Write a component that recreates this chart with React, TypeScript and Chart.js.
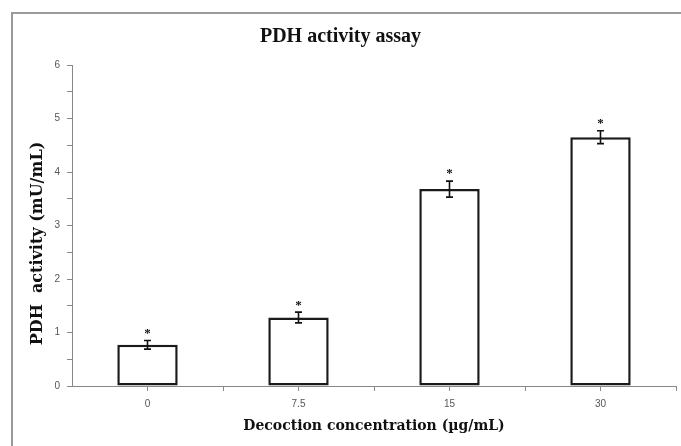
import React, { useEffect, useRef } from "react";
import { Chart, registerables } from "chart.js";

Chart.register(...registerables);

const categories = ["0", "7.5", "15", "30"];
const activity = [0.77, 1.28, 3.68, 4.65];
const errors = [0.08, 0.1, 0.15, 0.12];
const significance = ["*", "*", "*", "*"];
const yMin = 0;
const yMax = 6;
const yMajorStep = 1;
const yMinorStep = 0.5;
const chartTitle = "PDH activity assay";
const yTitle = "PDH  activity (mU/mL)";
const xTitle = "Decoction concentration (\u00b5g/mL)";

const SERIF = "'Liberation Serif', 'Times New Roman', serif";
const WIDE_SERIF = "'DejaVu Serif', 'Liberation Serif', serif";
const SANS = "'Liberation Sans', Arial, sans-serif";

const framePlugin = {
  id: "frame",
  beforeDraw(chart: any) {
    const ctx = chart.ctx;
    ctx.save();
    ctx.fillStyle = "#ffffff";
    ctx.fillRect(0, 0, chart.width, chart.height);
    ctx.strokeStyle = "#9a9a9a";
    ctx.lineWidth = 2;
    ctx.strokeRect(12, 13, chart.width + 20, chart.height + 20);
    ctx.restore();
  },
  afterDraw(chart: any) {
    const ctx = chart.ctx;
    ctx.save();
    ctx.fillStyle = "#111";
    ctx.font = `bold 20px ${SERIF}`;
    ctx.textAlign = "center";
    ctx.textBaseline = "middle";
    ctx.fillText(chartTitle, chart.width / 2, 37);
    // y axis title
    const area = chart.chartArea;
    ctx.translate(38, (area.top + area.bottom) / 2 + 18);
    ctx.rotate(-Math.PI / 2);
    ctx.font = `bold 16px ${WIDE_SERIF}`;
    ctx.fillText(yTitle, 0, 0);
    ctx.restore();
  },
};

const errorBarPlugin = {
  id: "errorBars",
  afterDatasetsDraw(chart: any) {
    const ctx = chart.ctx;
    const y = chart.scales.y;
    const meta = chart.getDatasetMeta(0);
    ctx.save();
    ctx.strokeStyle = "#111";
    ctx.lineWidth = 1.6;
    meta.data.forEach((bar: any, i: number) => {
      const x = bar.x;
      const top = y.getPixelForValue(activity[i] + errors[i]);
      const bot = y.getPixelForValue(activity[i] - errors[i]);
      ctx.beginPath();
      ctx.moveTo(x, top);
      ctx.lineTo(x, bot);
      ctx.moveTo(x - 3.5, top);
      ctx.lineTo(x + 3.5, top);
      ctx.moveTo(x - 3.5, bot);
      ctx.lineTo(x + 3.5, bot);
      ctx.stroke();
      ctx.fillStyle = "#111";
      ctx.font = `bold 13px ${SERIF}`;
      ctx.textAlign = "center";
      ctx.textBaseline = "middle";
      ctx.fillText(significance[i], x, top - 7);
    });
    ctx.restore();
  },
};

const boundaryTickPlugin = {
  id: "boundaryTicks",
  afterDraw(chart: any) {
    const ctx = chart.ctx;
    const xs = chart.scales.x;
    const area = chart.chartArea;
    const half = (xs.getPixelForValue(1) - xs.getPixelForValue(0)) / 2;
    ctx.save();
    ctx.strokeStyle = "#888";
    ctx.lineWidth = 1;
    for (let i = 0; i < categories.length; i++) {
      const bx = Math.round(xs.getPixelForValue(i) + half) + 0.5;
      ctx.beginPath();
      ctx.moveTo(bx, area.bottom);
      ctx.lineTo(bx, area.bottom + 5);
      ctx.stroke();
    }
    ctx.restore();
  },
};

export default function App() {
  const ref = useRef<HTMLCanvasElement | null>(null);
  useEffect(() => {
    if (!ref.current) return;
    const chart = new Chart(ref.current, {
      type: "bar",
      data: {
        labels: categories,
        datasets: [
          {
            data: activity,
            backgroundColor: "#ffffff",
            borderColor: "#1a1a1a",
            borderWidth: 2.5,
            borderSkipped: false,
            categoryPercentage: 1,
            barPercentage: 0.4,
          },
        ],
      },
      options: {
        responsive: false,
        animation: false,
        layout: { padding: { left: 25, top: 65, right: 5, bottom: 7 } },
        plugins: {
          legend: { display: false },
          tooltip: { enabled: false },
          title: { display: false },
        },
        scales: {
          x: {
            offset: true,
            grid: {
              offset: false,
              drawOnChartArea: false,
              drawTicks: true,
              tickLength: 5,
              color: "#888",
            },
            border: { display: true, color: "#888", width: 1 },
            ticks: {
              color: "#555",
              font: { family: SANS, size: 10 },
              padding: 7,
            },
            title: {
              display: true,
              text: xTitle,
              color: "#111",
              font: { family: WIDE_SERIF, size: 14, weight: "bold" },
              padding: { top: 4, bottom: 4 },
            },
            afterFit(scale: any) {
              scale.height = 53;
            },
          },
          y: {
            min: yMin,
            max: yMax,
            grid: {
              drawOnChartArea: false,
              drawTicks: true,
              tickLength: 5,
              color: "#888",
            },
            border: { display: true, color: "#888", width: 1 },
            ticks: {
              stepSize: yMinorStep,
              color: "#555",
              font: { family: SANS, size: 10 },
              padding: 7,
              callback: (v: any) =>
                Number(v) % yMajorStep === 0 ? String(v) : "",
            },
            afterFit(scale: any) {
              scale.width = 47;
            },
          },
        },
      },
      plugins: [framePlugin, errorBarPlugin, boundaryTickPlugin],
    });
    return () => chart.destroy();
  }, []);
  return (
    <div style={{ position: "fixed", left: 0, top: 0, width: 681, height: 446, background: "#fff" }}>
      <canvas ref={ref} width={681} height={446} />
    </div>
  );
}
